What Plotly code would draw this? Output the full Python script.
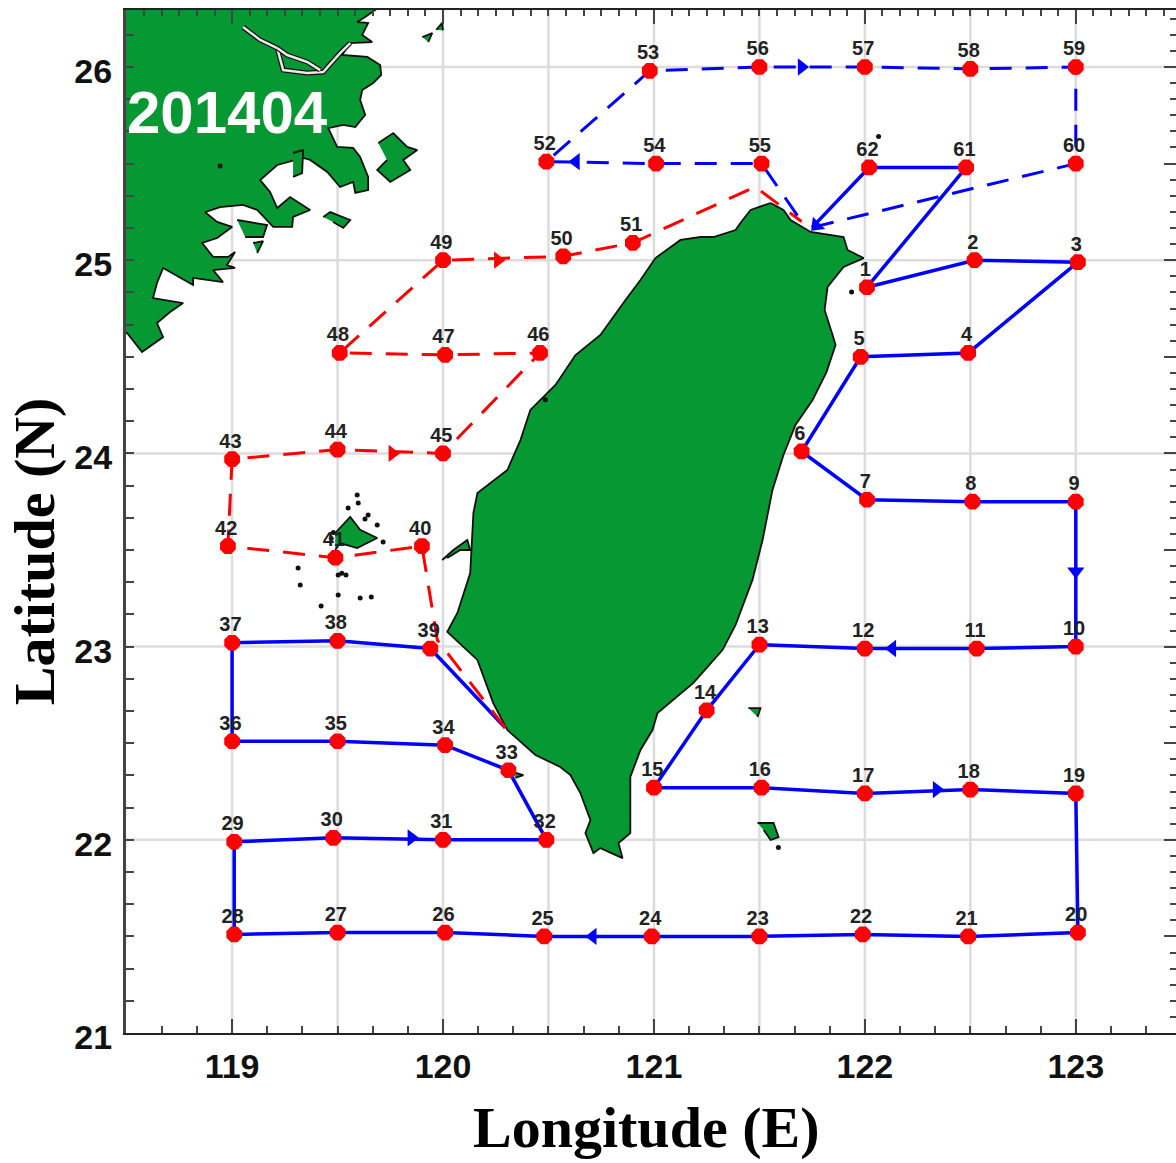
import plotly.graph_objects as go

# Stations (lon E, lat N), index 1..62
st_lon = [122.01,122.52,123.01,122.49,121.98,121.70,122.01,122.51,123.00,123.00,
          122.53,122.00,121.50,121.25,121.00,121.51,122.00,122.50,123.00,123.01,
          122.49,121.99,121.50,120.99,120.48,120.01,119.50,119.01,119.01,119.48,
          120.00,120.49,120.31,120.01,119.50,119.00,119.00,119.50,119.94,
          119.90,119.49,118.98,119.00,119.50,120.00,120.46,120.01,119.51,120.00,120.57,120.90,
          120.49,120.98,121.01,121.51,121.50,122.00,122.50,123.00,123.00,122.48,122.02]
st_lat = [24.86,25.00,24.99,24.52,24.50,24.01,23.76,23.75,23.75,23.00,
          22.99,22.99,23.01,22.67,22.27,22.27,22.24,22.26,22.24,21.52,
          21.50,21.51,21.50,21.50,21.50,21.52,21.52,21.51,21.99,22.01,
          22.00,22.00,22.36,22.49,22.51,22.51,23.02,23.03,22.99,
          23.52,23.46,23.52,23.97,24.02,24.00,24.52,24.51,24.52,25.00,25.02,25.09,
          25.51,25.98,25.50,25.50,26.00,26.00,25.99,26.00,25.50,25.48,25.48]
st_names = [str(i + 1) for i in range(62)]
label_dlat = 0.086
label_dlon = -0.008

# Land outlines
taiwan_lon = [121.553,121.614,121.648,121.743,121.899,121.918,121.994,121.899,121.823,121.809,121.847,121.861,121.818,121.752,121.671,121.614,121.562,121.515,121.467,121.387,121.325,121.187,121.017,120.993,120.936,120.888,120.888,120.888,120.832,120.851,120.746,120.713,120.675,120.699,120.651,120.604,120.556,120.438,120.305,120.238,120.163,120.049,120.020,120.068,120.129,120.144,120.163,120.305,120.367,120.414,120.533,120.628,120.746,120.865,120.936,121.007,121.126,121.221,121.282,121.387,121.410,121.458,121.553]
taiwan_lat = [25.296,25.260,25.208,25.146,25.120,25.053,25.011,24.965,24.861,24.742,24.613,24.561,24.421,24.276,24.147,23.992,23.811,23.552,23.345,23.112,22.982,22.812,22.656,22.568,22.465,22.325,22.139,22.035,21.983,21.905,21.957,21.931,22.035,22.102,22.242,22.335,22.377,22.439,22.568,22.708,22.931,23.050,23.076,23.174,23.381,23.692,23.795,23.914,24.069,24.225,24.354,24.509,24.613,24.794,24.897,25.011,25.105,25.120,25.120,25.156,25.193,25.260,25.296]
main_lon = [118.45,119.750,119.631,119.593,119.645,119.617,119.664,119.560,119.522,119.641,119.702,119.707,119.669,119.617,119.607,119.631,119.584,119.527,119.456,119.498,119.574,119.607,119.645,119.645,119.584,119.574,119.512,119.451,119.370,119.337,119.214,119.133,119.180,119.214,119.275,119.370,119.289,119.285,119.195,119.119,119.052,118.943,118.872,118.929,119.000,118.929,118.858,118.910,118.981,119.014,118.976,119.014,118.910,118.957,118.815,118.815,118.673,118.644,118.625,118.768,118.706,118.644,118.673,118.573,118.502,118.45,118.45]
main_lat = [26.35,26.35,26.259,26.233,26.228,26.166,26.129,26.124,26.062,26.052,26.010,25.959,25.917,25.881,25.829,25.752,25.689,25.700,25.684,25.586,25.581,25.534,25.431,25.363,25.348,25.405,25.379,25.457,25.519,25.529,25.493,25.415,25.353,25.270,25.327,25.260,25.224,25.172,25.172,25.260,25.286,25.275,25.249,25.198,25.172,25.115,25.089,25.017,25.017,25.042,24.975,24.960,24.949,24.887,24.908,24.872,24.960,24.882,24.804,24.778,24.732,24.675,24.602,24.525,24.623,24.62,26.35]
river_lon = [119.052,119.133,119.214,119.242,119.356,119.432,119.512,119.560]
river_lat = [26.207,26.140,26.098,25.984,25.969,25.974,26.072,26.124]
branch_lon = [119.214,119.261,119.356,119.418]
branch_lat = [26.098,26.062,26.026,25.984]
islands = [
    ([119.693,119.764,119.830,119.878,119.811,119.845,119.750,119.688,119.735],[25.607,25.658,25.586,25.570,25.519,25.467,25.405,25.467,25.519]),
    ([119.289,119.337,119.332,119.289],[25.555,25.570,25.451,25.431]),
    ([119.432,119.465,119.560,119.527,119.479],[25.224,25.249,25.208,25.167,25.198]),
    ([119.902,119.949,119.930],[26.155,26.176,26.129]),
    ([119.968,119.996,120.000],[26.192,26.228,26.190]),
    ([119.024,119.166,119.147,119.062],[25.208,25.182,25.120,25.120]),
    ([119.100,119.147,119.119],[25.089,25.099,25.037]),
    ([119.489,119.560,119.607,119.688,119.593,119.512,119.489],[23.588,23.671,23.604,23.562,23.510,23.536,23.500]),
    ([121.448,121.505,121.491],[22.682,22.682,22.636]),
    ([121.491,121.567,121.591,121.553,121.520],[22.087,22.087,22.014,21.999,22.051]),
    ([119.996,120.049,120.115,120.129,120.082,120.020],[23.448,23.500,23.552,23.500,23.500,23.459]),
    ([120.329,120.381,120.343],[22.351,22.335,22.320]),
]
speck_lon = [119.313,119.323,119.503,119.503,119.607,119.660,119.422,119.593,119.598,119.550,119.645,119.688,119.716,121.937,121.59,118.943,122.065,120.485,119.520,119.540,119.470,119.480,119.630]
speck_lat = [23.407,23.319,23.371,23.267,23.252,23.257,23.210,23.785,23.743,23.717,23.681,23.629,23.541,24.835,21.96,25.488,25.64,24.278,23.380,23.370,23.560,23.590,23.660]

# Routes: station numbers with coastal end points
coast_ne = (121.75, 25.17)
coast_n = (121.70, 25.20)
turn_n = (121.48, 25.38)
coast_sw = (120.295, 22.58)
turn_sw = (119.973, 23.034)
solid_order = [62, 61] + list(range(1, 40))
red_order = list(range(40, 52))
dash_order = [60, 59, 58, 57, 56, 53, 52, 54, 55]

# Direction arrows
arrow_lon = [120.26,119.76,121.70,120.63,123.00,122.13,122.34,119.85,120.71,121.77]
arrow_lat = [25.00,24.00,26.00,25.51,23.39,22.99,22.26,22.01,21.50,25.18]
arrow_angle = [90,90,90,270,180,270,90,90,270,225]
arrow_color = ["#ff0000","#ff0000","#0000ff","#0000ff","#0000ff","#0000ff","#0000ff","#0000ff","#0000ff","#0000ff"]

x_major = [119,120,121,122,123]
x_labels = ["119","120","121","122","123"]
y_major = [21,22,23,24,25,26]
y_labels = ["21","22","23","24","25","26"]
y_half = [21.5,22,22.5,23,23.5,24,24.5,25,25.5,26]
x_grid = [119,119.5,120,120.5,121,121.5,122,122.5,123]
y_grid = [22,23,24,25,26]
tag = "201404"
x_title = "Longitude (E)"
y_title = "Latitude (N)"
x_range = [118.497, 123.475]
y_range = [21, 26.295]

GREEN = "#069833"
def pick(o):
    return [st_lon[i-1] for i in o], [st_lat[i-1] for i in o]

fig = go.Figure()
# grid
for v in x_grid:
    fig.add_trace(go.Scatter(x=[v, v], y=y_range, mode="lines", line=dict(color="#dcdcdc", width=2.5), hoverinfo="skip"))
for v in y_grid:
    fig.add_trace(go.Scatter(x=x_range, y=[v, v], mode="lines", line=dict(color="#dcdcdc", width=2.5), hoverinfo="skip"))
# land
for lx, ly in [(main_lon, main_lat), (taiwan_lon, taiwan_lat)] + islands:
    fig.add_trace(go.Scatter(x=lx, y=ly, mode="lines", fill="toself", fillcolor=GREEN,
                             line=dict(color="#101010", width=1.8), hoverinfo="skip"))
for rx_, ry_ in [(river_lon, river_lat), (branch_lon, branch_lat)]:
    fig.add_trace(go.Scatter(x=rx_, y=ry_, mode="lines", line=dict(color="#101010", width=5), hoverinfo="skip"))
    fig.add_trace(go.Scatter(x=rx_, y=ry_, mode="lines", line=dict(color="#e8e8e8", width=2.5), hoverinfo="skip"))
fig.add_trace(go.Scatter(x=speck_lon, y=speck_lat, mode="markers", marker=dict(color="#101010", size=5), hoverinfo="skip"))
# routes
sx, sy = pick(solid_order)
fig.add_trace(go.Scatter(x=[coast_ne[0]] + sx + [coast_sw[0]], y=[coast_ne[1]] + sy + [coast_sw[1]],
                         mode="lines", line=dict(color="#0000ff", width=3.5)))
rx, ry = pick(red_order)
fig.add_trace(go.Scatter(x=[coast_sw[0], turn_sw[0]] + rx + [turn_n[0], coast_n[0]],
                         y=[coast_sw[1], turn_sw[1]] + ry + [turn_n[1], coast_n[1]],
                         mode="lines", line=dict(color="#ff0000", width=3, dash="22px,14px")))
dx, dy = pick(dash_order)
fig.add_trace(go.Scatter(x=[coast_ne[0]] + dx + [coast_n[0]], y=[coast_ne[1]] + dy + [coast_n[1]],
                         mode="lines", line=dict(color="#0000ff", width=3, dash="22px,14px")))
# arrows
fig.add_trace(go.Scatter(x=arrow_lon, y=arrow_lat, mode="markers",
                         marker=dict(symbol="triangle-up", size=15, angle=arrow_angle, color=arrow_color)))
# stations
fig.add_trace(go.Scatter(x=st_lon, y=st_lat, mode="markers",
                         marker=dict(color="#ff0000", size=17, symbol="octagon")))
fig.add_trace(go.Scatter(x=[v + label_dlon for v in st_lon], y=[v + label_dlat for v in st_lat],
                         mode="text", text=st_names, textposition="middle center",
                         textfont=dict(family="Liberation Sans", size=20, color="#222222", weight="bold")))
# carrier for the top and right axes
fig.add_trace(go.Scatter(x=[None], y=[None], xaxis="x2", yaxis="y2", mode="markers"))

fig.add_annotation(x=118.976, y=25.767, xref="x", yref="y", text=f"<b>{tag}</b>", showarrow=False,
                   font=dict(family="Liberation Sans", size=60, color="white"))
fig.add_annotation(x=0.495, y=-0.0925, xref="paper", yref="paper", text=f"<b>{x_title}</b>", showarrow=False,
                   xanchor="center", yanchor="middle", font=dict(family="Liberation Serif", size=58, color="black"))
fig.add_annotation(x=-0.0875, y=0.471, xref="paper", yref="paper", text=f"<b>{y_title}</b>", showarrow=False,
                   textangle=-90, xanchor="center", yanchor="middle", font=dict(family="Liberation Serif", size=58, color="black"))

tick_col = "#444444"
fig.update_layout(
    width=1176, height=1163, margin=dict(l=126, r=0, t=10, b=130),
    paper_bgcolor="white", plot_bgcolor="white", showlegend=False,
    xaxis=dict(range=x_range, tickmode="array", tickvals=x_major, ticktext=x_labels,
               ticks="inside", ticklen=14, tickwidth=2, tickcolor=tick_col,
               minor=dict(dtick=1/6, tick0=119, ticks="inside", ticklen=7, tickwidth=2, tickcolor=tick_col, showgrid=False),
               showgrid=False, zeroline=False, showline=True, linecolor="#222222", linewidth=2,
               ticklabelstandoff=2,
               tickfont=dict(family="Liberation Sans", size=34, color="#111111", weight="bold")),
    yaxis=dict(range=y_range, tickmode="array", tickvals=y_major, ticktext=y_labels,
               ticks="inside", ticklen=8, tickwidth=2, tickcolor=tick_col,
               minor=dict(dtick=1/6, tick0=21, ticks="inside", ticklen=8, tickwidth=2, tickcolor=tick_col, showgrid=False),
               showgrid=False, zeroline=False, showline=True, linecolor="#444444", linewidth=3,
               ticklabelstandoff=4, ticklabelshift=4,
               tickfont=dict(family="Liberation Sans", size=34, color="#111111", weight="bold")),
    xaxis2=dict(range=x_range, overlaying="x", side="top", tickmode="array", tickvals=x_major,
                showticklabels=False, ticks="inside", ticklen=14, tickwidth=2, tickcolor=tick_col,
                minor=dict(dtick=1/12, tick0=119, ticks="inside", ticklen=6, tickwidth=2, tickcolor=tick_col, showgrid=False),
                showgrid=False, zeroline=False, showline=True, linecolor="#222222", linewidth=2),
    yaxis2=dict(range=y_range, overlaying="y", side="right", tickmode="array", tickvals=y_half,
                showticklabels=False, ticks="inside", ticklen=12, tickwidth=2, tickcolor=tick_col,
                minor=dict(dtick=1/12, tick0=21, ticks="inside", ticklen=6, tickwidth=2, tickcolor=tick_col, showgrid=False),
                showgrid=False, zeroline=False, showline=False),
)
fig.write_html("out.html", post_script="document.body.style.margin='0';", config={"displayModeBar": False})
